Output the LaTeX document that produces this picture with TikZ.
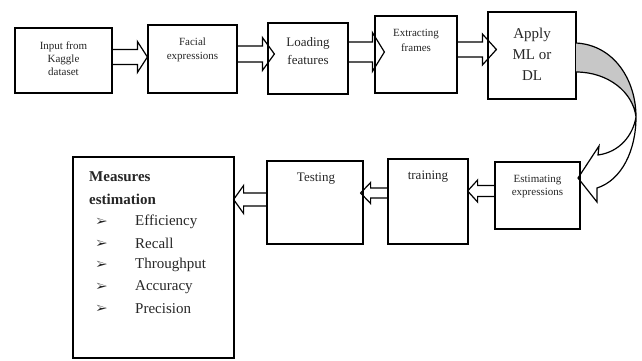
\documentclass[tikz,border=0pt]{standalone}
\usepackage{fontspec}
\setmainfont{Liberation Serif}
\usepackage{pifont}
\usetikzlibrary{calc}
\tikzset{
  box/.style={draw, line width=1.2pt, inner sep=0pt},
  lbl/.style={inner sep=0pt, align=center, text=black!85},
  blk/.style={draw, line width=1.2pt, line join=miter},
}
\newcommand\barrow[6]{\draw[blk] let \p1=(#1), \p2=(#2), \p3=(0,#3) in
  (\x1,\y3+#4) -- (\x2-#6,\y3+#4) -- (\x2-#6,\y3+#5) -- (\x2,\y3) --
  (\x2-#6,\y3-#5) -- (\x2-#6,\y3-#4) -- (\x1,\y3-#4);}
\begin{document}
\begin{tikzpicture}[x=1pt,y=-1pt]
\useasboundingbox (0,0) rectangle (642,360);
% boxes
\node[box, minimum width=97pt, minimum height=65pt] (a1) at (63.5,60.5) {};
\node[box, minimum width=89pt, minimum height=68pt] (a2) at (192.5,59) {};
\node[box, minimum width=80pt, minimum height=71pt] (a3) at (308,58.5) {};
\node[box, minimum width=82pt, minimum height=77pt] (a4) at (416,54.5) {};
\node[box, minimum width=88pt, minimum height=87pt] (a5) at (532,55.5) {};
\node[box, minimum width=85pt, minimum height=67pt] (est) at (537.5,195.5) {};
\node[box, minimum width=80pt, minimum height=85pt] (trn) at (428,201.5) {};
\node[box, minimum width=96pt, minimum height=83pt] (tst) at (315,202.5) {};
\node[box, minimum width=161pt, minimum height=201pt] (mea) at (153.5,257.5) {};
% texts
\node[lbl, font=\fontsize{11}{13}\selectfont] (t1) at (63.5,59) {Input from\\Kaggle\\dataset};
\node[lbl, font=\fontsize{11}{14}\selectfont] (t2) at (192.5,50) {Facial\\expressions};
\node[lbl, font=\fontsize{13}{18}\selectfont] (t3) at (308,51) {Loading\\features};
\node[lbl, font=\fontsize{11}{15}\selectfont] (t4) at (416,40.5) {Extracting\\frames};
\node[lbl, font=\fontsize{15}{21}\selectfont] (t5) at (532,54.5) {Apply\\ML or\\DL};
\node[lbl, font=\fontsize{11}{13.5}\selectfont] (t6) at (537.5,186.5) {Estimating\\expressions};
\node[lbl, font=\fontsize{13}{15}\selectfont] (t7) at (428,177) {training};
\node[lbl, font=\fontsize{13}{15}\selectfont] (t8) at (316,179) {Testing};
\node[lbl, anchor=west, font=\bfseries\fontsize{15}{17}\selectfont] (m1) at (89,177) {Measures};
\node[lbl, anchor=west, font=\bfseries\fontsize{15}{17}\selectfont] (m2) at (89,199) {estimation};
\foreach \y/\t [count=\i] in {222/Efficiency,243.5/Recall,265/Throughput,287/Accuracy,309/Precision}{
  \node[lbl, font=\fontsize{12}{13}\selectfont] (b\i) at (102,\y) {\ding{226}};
  \node[lbl, anchor=west, font=\fontsize{15}{17}\selectfont] (i\i) at (135,\y) {\t};
}
% block arrows
\barrow{a1.east}{a2.west}{57}{7.5pt}{15.5pt}{10pt}
\barrow{a2.east}{[xshift=7pt]a3.west}{54}{8pt}{16.5pt}{12pt}
\barrow{a3.east}{[xshift=10pt]a4.west}{52}{10pt}{19.5pt}{12pt}
\barrow{a4.east}{[xshift=9pt]a5.west}{49.5}{7.5pt}{15.5pt}{14pt}
\barrow{est.west}{[xshift=-1pt]trn.east}{191}{5.5pt}{11pt}{-10pt}
\barrow{trn.west}{[xshift=-3pt]tst.east}{193}{5pt}{10.5pt}{-10pt}
\barrow{tst.west}{[xshift=-1pt]mea.east}{199.5}{6.5pt}{14pt}{-10pt}
% curved arrow
\coordinate (c1) at (576,43);
\coordinate (c2) at (576,72);
\coordinate (cx) at (636,117);
\coordinate (ctip) at (578,178);
\fill[black!22] (c1) .. controls (614,45) and (636,80) .. (cx)
  .. controls (633,92) and (608,72) .. (c2) -- cycle;
\draw[blk, line join=miter] (c1) .. controls (614,45) and (636,80) .. (cx)
  .. controls (636,150) and (622,180) .. (597,188) -- (597,202) -- (ctip)
  -- (599,146) -- (598,155) .. controls (620,152) and (633,135) .. (cx)
  .. controls (633,92) and (608,72) .. (c2);
\end{tikzpicture}
\end{document}
